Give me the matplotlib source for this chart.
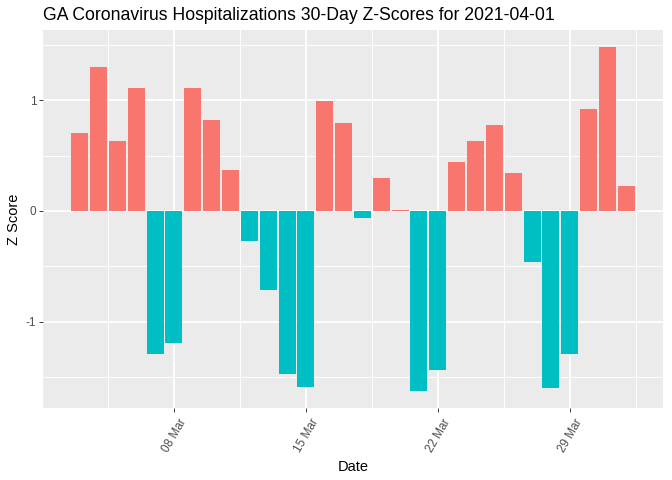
import matplotlib
matplotlib.use("Agg")
import matplotlib.pyplot as plt
import matplotlib.dates as mdates
import matplotlib.transforms as mtransforms
import numpy as np
import datetime as dt

plt.rcParams['font.family'] = ['Liberation Sans', 'DejaVu Sans']

start_date = dt.date(2021, 3, 3)
n_days = 30
z_scores = [0.707, 1.303, 0.635, 1.114, -1.29, -1.19, 1.114, 0.824, 0.373, -0.275,
            -0.71, -1.475, -1.59, 0.996, 0.797, -0.06, 0.30, 0.012, -1.623, -1.434,
            0.445, 0.635, 0.78, 0.346, -0.464, -1.596, -1.29, 0.924, 1.478, 0.226]
dates = [start_date + dt.timedelta(days=i) for i in range(n_days)]
tick_dates = [dt.date(2021, 3, 8), dt.date(2021, 3, 15), dt.date(2021, 3, 22), dt.date(2021, 3, 29)]
tick_labels = ["08 Mar", "15 Mar", "22 Mar", "29 Mar"]
title = "GA Coronavirus Hospitalizations 30-Day Z-Scores for 2021-04-01"

pos_color = "#F8766D"
neg_color = "#00BFC4"

fig = plt.figure(figsize=(7, 5), dpi=96)
ax = fig.add_axes([43/672, 1-408/480, 620/672, 378/480])
ax.set_facecolor("#EBEBEB")

x = mdates.date2num(dates)
vals = np.array(z_scores)
colors = [pos_color if v > 0 else neg_color for v in vals]
ax.bar(x, vals, width=0.9, color=colors, zorder=3)

# limits like ggplot expansion
xmin, xmax = x.min() - 0.45, x.max() + 0.45
ex = (xmax - xmin) * 0.05
ax.set_xlim(xmin - ex, xmax + ex)
ymin, ymax = min(vals.min(), 0), max(vals.max(), 0)
ey = (ymax - ymin) * 0.05
ax.set_ylim(ymin - ey, ymax + ey)

tx = mdates.date2num(tick_dates)
ax.set_xticks(tx)
ax.set_xticklabels(tick_labels)
minor_x = np.concatenate([[tx[0] - 3.5], tx + 3.5])
ax.set_xticks(minor_x, minor=True)
ax.set_yticks([-1, 0, 1])
ax.set_yticklabels(["-1", "0", "1"])
ax.set_yticks([-1.5, -0.5, 0.5, 1.5], minor=True)

ax.grid(which='major', color='white', linewidth=1.4, zorder=0)
ax.grid(which='minor', color='white', linewidth=0.7, zorder=0)
ax.set_axisbelow(True)
for s in ax.spines.values():
    s.set_visible(False)

ax.tick_params(which='major', length=2.75, width=0.7, color='#333333',
               labelcolor='#4D4D4D', labelsize=8.8, pad=2.2)
ax.tick_params(which='minor', length=0)
offset = mtransforms.ScaledTranslation(5/96, -2/96, fig.dpi_scale_trans)
for lab in ax.get_xticklabels():
    lab.set_rotation(60)
    lab.set_rotation_mode('anchor')
    lab.set_ha('right')
    lab.set_va('top')
    lab.set_transform(lab.get_transform() + offset)

ax.set_xlabel("Date", fontsize=11, color='black', labelpad=4)
ax.set_ylabel("Z Score", fontsize=11, color='black', labelpad=4)
fig.text(43/672, 1-15/480, title, fontsize=13.2, color='black', ha='left', va='center')

fig.savefig("out.png", dpi=96, facecolor='white')
